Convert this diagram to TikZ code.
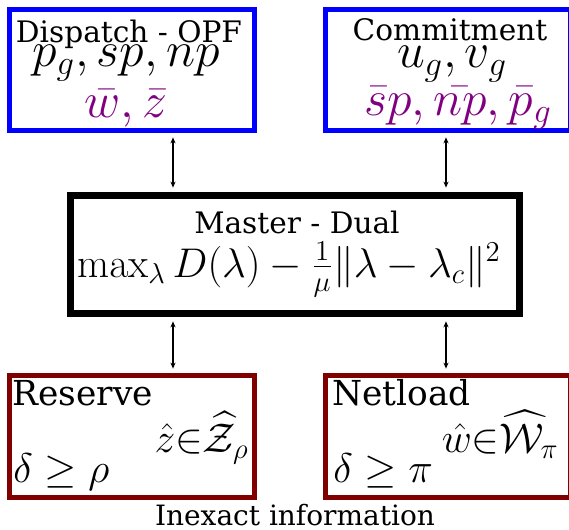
\documentclass[tikz,border=0pt]{standalone}
\usepackage[no-math]{fontspec}
\setmainfont{DejaVu Serif}
\usepackage{amsmath}
\usetikzlibrary{arrows.meta, positioning, calc}
\definecolor{boxBlue}{HTML}{0000FF}
\definecolor{boxRed}{HTML}{800000}
\definecolor{varPurple}{HTML}{800080}
\tikzset{
  arrowB/.style={{Stealth[length=3pt, width=2.6pt]}-{Stealth[length=3pt, width=2.6pt]},
                 line width=0.75pt, shorten >=2.2pt, shorten <=2.2pt},
  boxTop/.style={rectangle, draw=boxBlue, line width=2.5pt, inner sep=0pt,
                 minimum width=122.5pt, minimum height=60.5pt},
  boxMaster/.style={rectangle, draw=black, line width=3.5pt, inner sep=0pt,
                    minimum width=224.5pt, minimum height=59pt},
  boxInfo/.style={rectangle, draw=boxRed, line width=2.5pt, inner sep=0pt,
                  minimum width=122.5pt, minimum height=61pt},
  txtA/.style={inner sep=0pt, anchor=base, font=\fontsize{14.8}{18}\selectfont},
  txtB/.style={inner sep=0pt, anchor=base west, font=\fontsize{17.2}{20}\selectfont},
  mathA/.style={inner sep=0pt, anchor=base, font=\fontsize{23}{27}\selectfont},
  mathM/.style={inner sep=0pt, anchor=base, font=\fontsize{21.4}{25}\selectfont},
  mathR/.style={inner sep=0pt, font=\fontsize{20}{24}\selectfont},
  mathS/.style={inner sep=0pt, anchor=base east, font=\fontsize{21.5}{25}\selectfont},
}

\begin{document}
\begin{tikzpicture}[x=0.5pt, y=-0.5pt]
    \useasboundingbox (0,0) rectangle (569,530);
    \node[boxTop] (disp) at (132,70) {};
    \node[boxTop] (comm) at (448,70) {};
    \node[boxMaster] (master) at (295,254.5) {};
    \node[boxInfo] (res) at (132,436.5) {};
    \node[boxInfo] (net) at (448,436.5) {};

    \node[txtA] (dispT) at (129,42) {Dispatch - OPF};
    \node[mathA] (dispV) at (126,67) {$p_g, sp, np$};
    \node[mathA, text=varPurple] (dispW) at (126,118) {$\bar{w}, \bar{z}$};

    \node[txtA] (commT) at (450,40) {Commitment};
    \node[mathA] (commV) at (452,68) {$u_g, v_g$};
    \node[mathA, text=varPurple] (commW) at (458,115) {$\bar{s}p, \bar{np}, \bar{p}_g$};

    \node[txtA] (masterT) at (297,233) {Master - Dual};
    \node[mathM] (masterF) at (289,277)
      {$\max_{\lambda} D(\lambda) - \frac{1}{\mu}\|\lambda - \lambda_c\|^2$};

    \node[txtB] (resT) at (12,405) {Reserve};
    \node[mathS] (resS) at (249,452) {$\hat{z}{\in}\widehat{\mathcal{Z}}_{\rho}$};
    \node[mathR, anchor=base west] (resD) at (13,482) {$\delta \geq \rho$};

    \node[txtB] (netT) at (332,405) {Netload};
    \node[mathS] (netS) at (559,452) {$\hat{w}{\in}\widehat{\mathcal{W}}_{\pi}$};
    \node[mathR, anchor=base west] (netD) at (333,482) {$\delta \geq \pi$};

    \node[txtA, font=\fontsize{14}{17}\selectfont] (info) at (295,525) {Inexact information};

    \coordinate (colL) at (173,0);
    \coordinate (colR) at (446,0);
    \draw[arrowB] (disp.south -| colL) -- (master.north -| colL);
    \draw[arrowB] (comm.south -| colR) -- (master.north -| colR);
    \draw[arrowB] (master.south -| colL) -- (res.north -| colL);
    \draw[arrowB] (master.south -| colR) -- (net.north -| colR);
\end{tikzpicture}
\end{document}
